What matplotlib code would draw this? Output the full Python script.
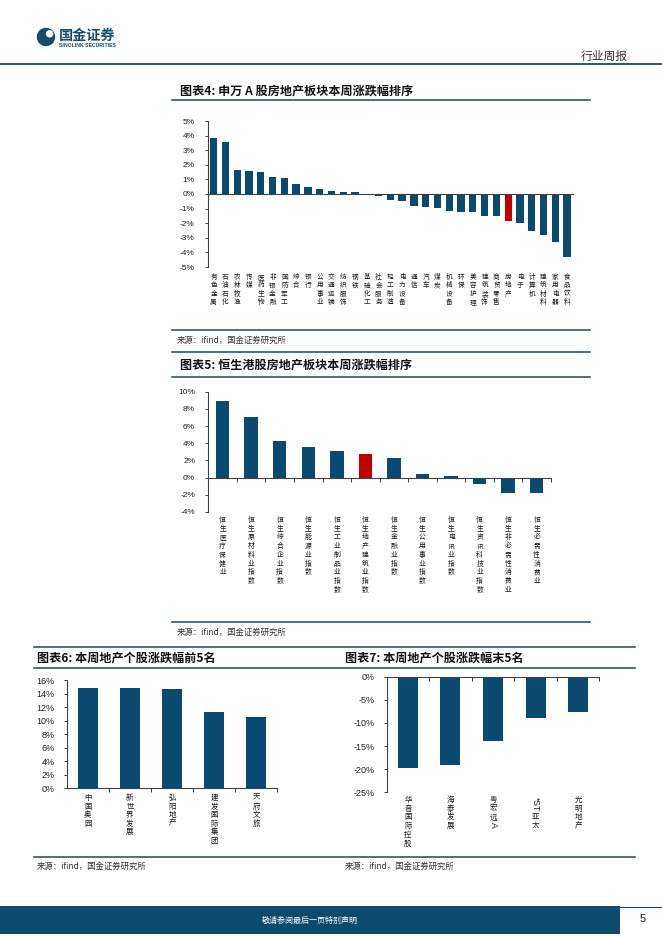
import re
import matplotlib
matplotlib.use('Agg')
import matplotlib.pyplot as plt
from matplotlib import transforms
from matplotlib.lines import Line2D
from matplotlib.patches import Circle, Rectangle

# ---------------- data ----------------
sw_names = ['有色金属', '石油石化', '农林牧渔', '传媒', '医药生物', '非银金融', '国防军工', '综合',
            '银行', '公用事业', '交通运输', '纺织服饰', '钢铁', '基础化工', '社会服务', '轻工制造',
            '电力设备', '通信', '汽车', '煤炭', '机械设备', '环保', '美容护理', '建筑装饰',
            '商贸零售', '房地产', '电子', '计算机', '建筑材料', '家用电器', '食品饮料']
sw_values = [3.82, 3.55, 1.64, 1.57, 1.50, 1.16, 1.09, 0.68, 0.48, 0.34, 0.23, 0.16, 0.15,
             -0.10, -0.12, -0.41, -0.48, -0.84, -0.89, -0.98, -1.16, -1.22, -1.23, -1.50,
             -1.52, -1.84, -1.98, -2.52, -2.80, -3.27, -4.34]
sw_highlight = '房地产'

hs_names = ['恒生医疗保健业', '恒生原材料业指数', '恒生综合企业指数', '恒生能源业指数',
            '恒生工业制品业指数', '恒生地产建筑业指数', '恒生金融业指数', '恒生公用事业指数',
            '恒生电讯业指数', '恒生资讯科技业指数', '恒生非必需性消费业', '恒生必需性消费业']
hs_values = [8.92, 7.07, 4.29, 3.59, 3.13, 2.78, 2.32, 0.46, 0.23, -0.77, -1.81, -1.81]
hs_highlight = '恒生地产建筑业指数'

top_names = ['中国奥园', '新世界发展', '弘阳地产', '建发国际集团', '天府文旅']
top_values = [14.77, 14.75, 14.62, 11.27, 10.54]

bot_names = ['华音国际控股', '海泰发展', '粤宏远A', '*ST亚太', '光明地产']
bot_values = [-19.67, -19.02, -13.98, -8.86, -7.56]

sw_ticks = [-5, -4, -3, -2, -1, 0, 1, 2, 3, 4, 5]
hs_ticks = [-4, -2, 0, 2, 4, 6, 8, 10]
top_ticks = [0, 2, 4, 6, 8, 10, 12, 14, 16]
bot_ticks = [-25, -20, -15, -10, -5, 0]

# ---------------- style ----------------
BLUE = '#0B4A70'
RED = '#C00000'
LINE = '#1D4A5C'
AXC = '#404040'
CJK = ['Noto Sans CJK SC', 'DejaVu Sans']
LAT = ['Liberation Sans', 'DejaVu Sans']

W, H = 662, 936
fig = plt.figure(figsize=(W / 100, H / 100), dpi=100)


def fx(x):
    return x / W


def fy(y):
    return 1 - y / H


def add_ax(l, r, t, b):
    return fig.add_axes([fx(l), fy(b), (r - l) / W, (b - t) / H])


def hline(y, x0, x1, lw=1.1, color=LINE):
    fig.add_artist(Line2D([fx(x0), fx(x1)], [fy(y), fy(y)], transform=fig.transFigure,
                          lw=lw, color=color))


def ftext(x, y, s, **kw):
    fig.text(fx(x), fy(y), s, **kw)


def vlabel(ax, x, label, y0, step, size):
    trans = transforms.blended_transform_factory(ax.transData, fig.transFigure)
    tokens = re.findall(r'[A-Za-z0-9*]+|.', label)
    y = y0
    for t in tokens:
        if t.isascii():
            length = len(t) * step * 0.55
            ax.text(x, fy(y - step * 0.4 + length / 2), t, rotation=-90, ha='center', va='center',
                    fontsize=size * 1.15, family=LAT, color='#1a1a1a', transform=trans)
            y += length + step * 0.25
        else:
            ax.text(x, fy(y), t, ha='center', va='center', fontsize=size, family=CJK,
                    color='#1a1a1a', transform=trans)
            y += step


def bar_chart(ax, names, values, colors, ylim, yticks, width, bticks, fs, pad):
    xs = list(range(len(values)))
    ax.bar(xs, values, width=width, color=colors, zorder=2)
    ax.set_xlim(-0.5, len(values) - 0.5)
    ax.set_ylim(*ylim)
    ax.set_yticks(yticks)
    ax.set_yticklabels([f'{t}%' for t in yticks], family=LAT, fontsize=fs, color='#222222')
    for s in ('top', 'right'):
        ax.spines[s].set_visible(False)
    ax.spines['left'].set_color(AXC)
    ax.spines['left'].set_linewidth(0.8)
    ax.spines['bottom'].set_position(('data', 0))
    ax.spines['bottom'].set_color(AXC)
    ax.spines['bottom'].set_linewidth(0.8)
    ax.spines['bottom'].set_zorder(3)
    if bticks:
        ax.set_xticks([i + 0.5 for i in range(len(values))])
    else:
        ax.set_xticks([])
    ax.tick_params(axis='x', direction='out', length=3, width=0.7, color=AXC, labelbottom=False)
    ax.tick_params(axis='y', direction='out', length=2.5, width=0.7, color=AXC, pad=pad)
    ax.patch.set_alpha(0)


TITLE_FS = 8.7
SRC_FS = 6
SRC = '来源：ifind，国金证券研究所'

# ---------------- header ----------------
lax = fig.add_axes([fx(36), fy(47), 20 / W, 20 / H])
lax.set_xlim(-10, 10)
lax.set_ylim(-10, 10)
lax.set_aspect('equal')
lax.axis('off')
lax.add_patch(Circle((0, 0), 8.5, color='#154C6E'))
lax.add_patch(Circle((3.6, 3.2), 3.0, color='white'))
ftext(59, 36, '国金证券', family=CJK, fontsize=10.2, fontweight='bold', color='#154C6E', va='center')
ftext(59, 45.5, 'SINOLINK SECURITIES', family=LAT, fontsize=3.7, fontweight='bold',
      color='#154C6E', va='center')
ftext(628, 56, '行业周报', family=CJK, fontsize=8.5, color='#333333', ha='right', va='center')
hline(64, 0, 662, lw=1.3)

# ---------------- chart 4 ----------------
ftext(180, 90.5, '图表4: 申万 A 股房地产板块本周涨跌幅排序', family=CJK, fontsize=TITLE_FS,
      fontweight='bold', va='center', color='#111111')
hline(100, 172, 590)
ax4 = add_ax(207.7, 573, 121, 267)
c4 = [RED if n == sw_highlight else BLUE for n in sw_names]
bar_chart(ax4, sw_names, sw_values, c4, (-5, 5), sw_ticks, 0.62, False, 6, 7)
for i, n in enumerate(sw_names):
    vlabel(ax4, i, n, 277, 8.33, 4.8)
hline(330, 172, 590)
ftext(177, 340.5, SRC, family=CJK, fontsize=SRC_FS, color='#333333', va='center')
hline(352, 172, 590)

# ---------------- chart 5 ----------------
ftext(180, 364.5, '图表5: 恒生港股房地产板块本周涨跌幅排序', family=CJK, fontsize=TITLE_FS,
      fontweight='bold', va='center', color='#111111')
hline(377, 172, 590)
ax5 = add_ax(208.3, 551, 391.7, 512)
c5 = [RED if n == hs_highlight else BLUE for n in hs_names]
bar_chart(ax5, hs_names, hs_values, c5, (-4, 10), hs_ticks, 0.47, True, 6, 7)
for i, n in enumerate(hs_names):
    vlabel(ax5, i, n, 520, 8.7, 4.9)
hline(622, 172, 590)
ftext(177, 632, SRC, family=CJK, fontsize=SRC_FS, color='#333333', va='center')

# ---------------- charts 6 & 7 ----------------
hline(647, 34, 635)
hline(668, 34, 635)
ftext(37, 657.5, '图表6: 本周地产个股涨跌幅前5名', family=CJK, fontsize=TITLE_FS,
      fontweight='bold', va='center', color='#111111')
ftext(345, 657.5, '图表7: 本周地产个股涨跌幅末5名', family=CJK, fontsize=TITLE_FS,
      fontweight='bold', va='center', color='#111111')

ax6 = add_ax(66.7, 277.3, 680, 788.3)
bar_chart(ax6, top_names, top_values, [BLUE] * len(top_values), (0, 16), top_ticks, 0.47, True, 6.5, 6)
for i, n in enumerate(top_names):
    vlabel(ax6, i, n, 798, 8.6, 5.4)

ax7 = add_ax(386.7, 599.3, 676.7, 792.3)
bar_chart(ax7, bot_names, bot_values, [BLUE] * len(bot_values), (-25, 0), bot_ticks, 0.47, True, 6.5, 6)
for i, n in enumerate(bot_names):
    vlabel(ax7, i, n, 800, 8.7, 5.4)

hline(857, 34, 635)
ftext(37, 866.5, SRC, family=CJK, fontsize=SRC_FS, color='#333333', va='center')
ftext(345, 866.5, SRC, family=CJK, fontsize=SRC_FS, color='#333333', va='center')

# ---------------- footer ----------------
fig.add_artist(Rectangle((0, fy(934)), fx(620), (934 - 906) / H, transform=fig.transFigure,
                         color='#0C4A6E', lw=0))
hline(906.5, 620, 662, lw=0.8, color='#0C4A6E')
ftext(310, 920, '敬请参阅最后一页特别声明', family=CJK, fontsize=5.8, color='white',
      ha='center', va='center')
ftext(643, 919, '5', family=LAT, fontsize=8, color='#111111', ha='center', va='center')

fig.savefig('out.png', dpi=100)
